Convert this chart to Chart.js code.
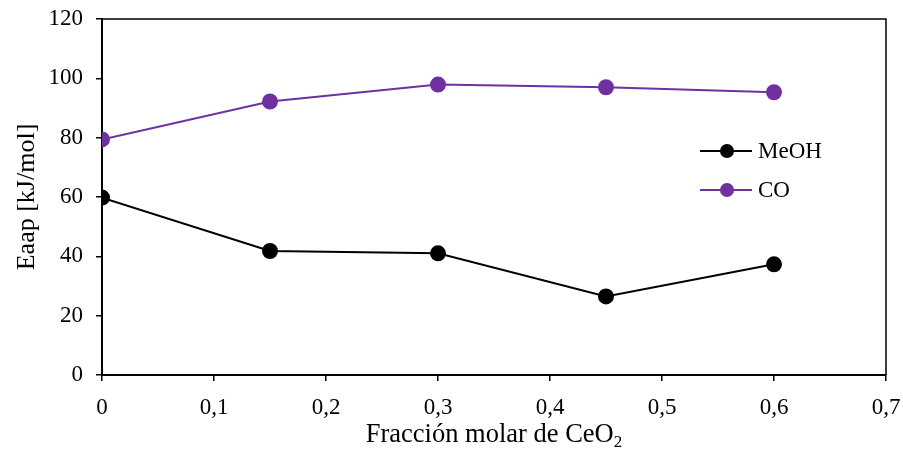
<!DOCTYPE html>
<html><head><meta charset="utf-8">
<script src="https://cdn.jsdelivr.net/npm/chart.js@4"></script>
<style>html,body{margin:0;padding:0;background:#fff}#wrap{width:903px;height:449px}</style>
</head><body><div id="wrap"><canvas id="c" width="903" height="449"></canvas></div>
<script>
const xValues = [0, 0.15, 0.3, 0.45, 0.6];
const meohValues = [59.8, 41.8, 41.0, 26.5, 37.3];
const coValues = [79.4, 92.2, 97.9, 97.0, 95.3];
const seriesNames = ['MeOH', 'CO'];
const seriesColors = ['#000000', '#7030A0'];
const yTitle = 'Eaap [kJ/mol]';
const xTitleMain = 'Fracción molar de CeO';
const xTitleSub = '2';

const FONT = '"Liberation Serif", "Times New Roman", serif';

const framePlugin = {
  id: 'frame',
  afterDraw(chart) {
    const {ctx, chartArea: a} = chart;
    ctx.save();
    ctx.strokeStyle = '#000';
    ctx.lineWidth = 1.5;
    ctx.beginPath();
    ctx.moveTo(a.left, a.top); ctx.lineTo(a.right, a.top); ctx.lineTo(a.right, a.bottom);
    ctx.stroke();
    // legend
    const items = [[seriesNames[0], seriesColors[0], 151], [seriesNames[1], seriesColors[1], 190]];
    items.forEach(([name, col, y]) => {
      ctx.strokeStyle = col; ctx.fillStyle = col; ctx.lineWidth = 2;
      ctx.beginPath(); ctx.moveTo(700, y); ctx.lineTo(752, y); ctx.stroke();
      ctx.beginPath(); ctx.arc(727, y, 7, 0, Math.PI * 2); ctx.fill();
      ctx.fillStyle = '#000'; ctx.font = '23px ' + FONT; ctx.textBaseline = 'middle'; ctx.textAlign = 'left';
      ctx.fillText(name, 758, y + 1);
    });
    // x title with subscript
    ctx.fillStyle = '#000';
    ctx.textBaseline = 'alphabetic';
    ctx.font = '26.5px ' + FONT;
    const w1 = ctx.measureText(xTitleMain).width;
    ctx.font = '17px ' + FONT;
    const w2 = ctx.measureText(xTitleSub).width;
    const cx = (a.left + a.right) / 2;
    const x0 = cx - (w1 + w2) / 2;
    ctx.font = '26.5px ' + FONT; ctx.textAlign = 'left';
    ctx.fillText(xTitleMain, x0, 442);
    ctx.font = '17px ' + FONT;
    ctx.fillText(xTitleSub, x0 + w1, 447);
    // y title
    ctx.save();
    ctx.translate(27, (a.top + a.bottom) / 2);
    ctx.rotate(-Math.PI / 2);
    ctx.font = '26px ' + FONT; ctx.textAlign = 'center'; ctx.textBaseline = 'middle';
    ctx.fillText(yTitle, 0, 0);
    ctx.restore();
    ctx.restore();
  }
};

function zeroPad(s) { s.paddingLeft = 0; s.paddingRight = 0; s.paddingTop = 0; s.paddingBottom = 0; }

new Chart(document.getElementById('c'), {
  type: 'line',
  data: {
    datasets: [
      { label: seriesNames[0], data: xValues.map((x, i) => ({x, y: meohValues[i]})), borderColor: seriesColors[0], backgroundColor: seriesColors[0], borderWidth: 2, pointRadius: 7, pointHoverRadius: 7, tension: 0 },
      { label: seriesNames[1], data: xValues.map((x, i) => ({x, y: coValues[i]})), borderColor: seriesColors[1], backgroundColor: seriesColors[1], borderWidth: 2, pointRadius: 7, pointHoverRadius: 7, tension: 0 }
    ]
  },
  options: {
    responsive: false,
    animation: false,
    events: [],
    layout: { padding: { top: 19, right: 17, left: 0, bottom: 0 } },
    plugins: { legend: { display: false }, tooltip: { enabled: false }, title: { display: false } },
    scales: {
      x: {
        type: 'linear', min: 0, max: 0.7,
        afterFit(s) { s.height = 74; zeroPad(s); },
        border: { display: true, color: '#000', width: 2 },
        grid: { drawOnChartArea: false, drawTicks: true, tickLength: 6, color: '#000', lineWidth: 1.5 },
        ticks: { stepSize: 0.1, color: '#000', padding: 13, font: { family: FONT, size: 23 }, maxRotation: 0,
          callback: v => v === 0 ? '0' : Number(v).toFixed(1).replace('.', ',') },
        title: { display: false }
      },
      y: {
        min: 0, max: 120,
        afterFit(s) { s.width = 102; zeroPad(s); },
        border: { display: true, color: '#000', width: 2 },
        grid: { drawOnChartArea: false, drawTicks: true, tickLength: 6, color: '#000', lineWidth: 1.5 },
        ticks: { stepSize: 20, color: '#000', padding: 13, font: { family: FONT, size: 23 } },
        title: { display: false }
      }
    }
  },
  plugins: [framePlugin]
});
</script></body></html>
